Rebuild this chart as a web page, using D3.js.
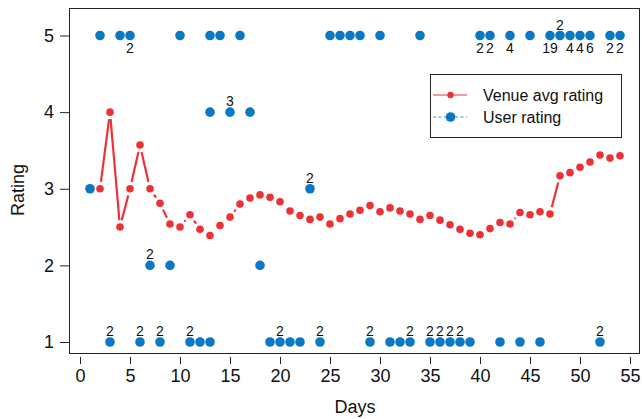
<!DOCTYPE html>
<html>
<head>
<meta charset="utf-8">
<script src="https://cdn.jsdelivr.net/npm/d3@7"></script>
<style>
  html, body { margin: 0; padding: 0; background: #fff; }
  svg { display: block; font-family: "Liberation Sans", Arial, Helvetica, sans-serif; }
</style>
</head>
<body>
<svg id="chart" width="642" height="419"></svg>
<script>
// ---------- data ----------
const venueDays = d3.range(2, 55);
const venueAvg = [3.0, 4.0, 2.5, 3.0, 3.57, 3.0, 2.81, 2.54, 2.50,
  2.66, 2.47, 2.39, 2.52, 2.63, 2.80, 2.88, 2.92, 2.89, 2.83,
  2.71, 2.65, 2.60, 2.63, 2.54, 2.61, 2.67, 2.72, 2.78, 2.70,
  2.75, 2.71, 2.67, 2.60, 2.65, 2.59, 2.53, 2.47, 2.42, 2.40,
  2.48, 2.56, 2.54, 2.69, 2.66, 2.70, 2.67, 3.17, 3.21, 3.28,
  3.35, 3.44, 3.40, 3.43];

const userDays = [2, 4, 5, 10, 13, 14, 16, 25, 26, 27, 28, 30, 34, 40, 41, 43, 45, 47, 48, 49, 50, 51, 53, 54,
  13, 15, 17,
  1, 23,
  7, 9, 18,
  3, 6, 8, 11, 12, 13, 19, 20, 21, 22, 24, 29, 31, 32, 33, 35, 36, 37, 38, 39, 42, 44, 46, 52];
const userRatings = [5, 5, 5, 5, 5, 5, 5, 5, 5, 5, 5, 5, 5, 5, 5, 5, 5, 5, 5, 5, 5, 5, 5, 5,
  4, 4, 4,
  3, 3,
  2, 2, 2,
  1, 1, 1, 1, 1, 1, 1, 1, 1, 1, 1, 1, 1, 1, 1, 1, 1, 1, 1, 1, 1, 1, 1, 1];
const userCounts = [1, 1, 2, 1, 1, 1, 1, 1, 1, 1, 1, 1, 1, 2, 2, 4, 1, 19, 2, 4, 4, 6, 2, 2,
  1, 3, 1,
  1, 2,
  2, 1, 1,
  2, 2, 2, 2, 1, 1, 1, 2, 1, 1, 2, 2, 1, 1, 2, 2, 2, 2, 2, 1, 1, 1, 1, 2];
// labels on the top row normally go below; these go above
const labelAboveDaysTopRow = [48];

const xTicks = d3.range(0, 56, 5);
const yTicks = [1, 2, 3, 4, 5];

// ---------- layout ----------
const svg = d3.select("#chart");
const frame = { left: 69, right: 640, top: 8, bottom: 353 };
const x = d3.scaleLinear().domain([0, 55]).range([80, 630]);
const y = d3.scaleLinear().domain([1, 5]).range([342, 35.5]);

const RED = "#ec3237";
const BLUE = "#0a78c3";

// frame
svg.append("rect")
  .attr("x", frame.left + 0.5).attr("y", frame.top + 0.5)
  .attr("width", frame.right - frame.left - 1).attr("height", frame.bottom - frame.top)
  .attr("fill", "none").attr("stroke", "#222").attr("stroke-width", 1);

// x axis
const xAxis = svg.append("g").attr("transform", `translate(0,${frame.bottom + 4})`)
  .call(d3.axisBottom(x).tickValues(xTicks).tickSize(7).tickPadding(5).tickFormat(d3.format("d")));
xAxis.select(".domain").remove();
xAxis.selectAll(".tick line").attr("stroke", "#222");
xAxis.selectAll("text").attr("font-size", 18).attr("fill", "#111")
  .attr("font-family", "'Liberation Sans', Arial, sans-serif");

// y axis
const yAxis = svg.append("g").attr("transform", `translate(${frame.left},0)`)
  .call(d3.axisLeft(y).tickValues(yTicks).tickSize(9).tickPadding(6).tickFormat(d3.format("d")));
yAxis.select(".domain").remove();
yAxis.selectAll(".tick line").attr("stroke", "#222");
yAxis.selectAll("text").attr("font-size", 18).attr("fill", "#111")
  .attr("font-family", "'Liberation Sans', Arial, sans-serif");

// axis titles
svg.append("text").attr("x", 355).attr("y", 413).attr("text-anchor", "middle")
  .attr("font-size", 18).attr("fill", "#111").text("Days");
svg.append("text").attr("transform", "translate(24,190) rotate(-90)").attr("text-anchor", "middle")
  .attr("font-size", 18).attr("fill", "#111").text("Rating");

// ---------- venue avg line (with gaps around markers) ----------
const venue = venueDays.map((d, i) => ({ px: x(d), py: y(venueAvg[i]) }));
const GAP = 7;
const segs = [];
for (let i = 0; i < venue.length - 1; i++) {
  const a = venue[i], b = venue[i + 1];
  const dx = b.px - a.px, dy = b.py - a.py, L = Math.hypot(dx, dy);
  if (L > 2 * GAP) {
    const ux = dx / L, uy = dy / L;
    segs.push({ x1: a.px + ux * GAP, y1: a.py + uy * GAP, x2: b.px - ux * GAP, y2: b.py - uy * GAP });
  }
}
svg.append("g").selectAll("line").data(segs).join("line")
  .attr("x1", d => d.x1).attr("y1", d => d.y1).attr("x2", d => d.x2).attr("y2", d => d.y2)
  .attr("stroke", RED).attr("stroke-width", 2.2).attr("stroke-linecap", "butt");
svg.append("g").selectAll("circle").data(venue).join("circle")
  .attr("cx", d => d.px).attr("cy", d => d.py).attr("r", 3.8).attr("fill", RED);

// ---------- user ratings ----------
const users = userDays.map((d, i) => ({ day: d, r: userRatings[i], n: userCounts[i] }));
svg.append("g").selectAll("circle").data(users).join("circle")
  .attr("cx", d => x(d.day)).attr("cy", d => y(d.r)).attr("r", 4.8).attr("fill", BLUE);

svg.append("g").selectAll("text").data(users.filter(d => d.n > 1)).join("text")
  .attr("x", d => x(d.day))
  .attr("y", d => {
    const below = d.r === 5 && !labelAboveDaysTopRow.includes(d.day);
    return below ? y(d.r) + 17 : y(d.r) - 6;
  })
  .attr("text-anchor", "middle").attr("font-size", 14).attr("fill", "#111")
  .text(d => d.n);

// ---------- legend ----------
const lg = svg.append("g");
lg.append("rect").attr("x", 430.5).attr("y", 74.5).attr("width", 191).attr("height", 63)
  .attr("fill", "#fff").attr("stroke", "#222").attr("stroke-width", 1);
lg.append("line").attr("x1", 433).attr("x2", 467).attr("y1", 95).attr("y2", 95)
  .attr("stroke", RED).attr("stroke-width", 1.2);
lg.append("circle").attr("cx", 450.5).attr("cy", 95).attr("r", 3.2).attr("fill", RED);
lg.append("line").attr("x1", 433).attr("x2", 467).attr("y1", 117).attr("y2", 117)
  .attr("stroke", BLUE).attr("stroke-width", 1).attr("stroke-dasharray", "3,2.5").attr("opacity", 0.8);
lg.append("circle").attr("cx", 450.5).attr("cy", 117).attr("r", 4.8).attr("fill", BLUE);
lg.append("text").attr("x", 483).attr("y", 101).attr("font-size", 16).attr("fill", "#111").text("Venue avg rating");
lg.append("text").attr("x", 483).attr("y", 123).attr("font-size", 16).attr("fill", "#111").text("User rating");
</script>
</body>
</html>
